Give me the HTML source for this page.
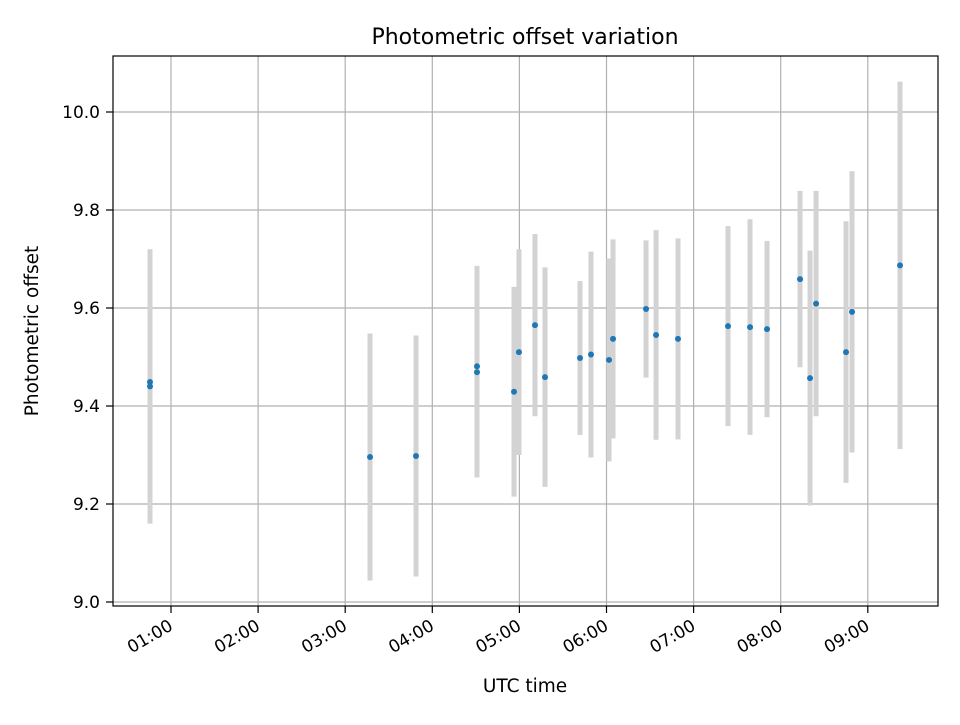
<!DOCTYPE html>
<html><head><meta charset="utf-8"><style>
body{margin:0;background:#fff;}
svg text{font-family:"DejaVu Sans","Liberation Sans",sans-serif;fill:#000;}
</style></head><body>
<svg id="chart" width="960" height="720" viewBox="0 0 960 720" xmlns="http://www.w3.org/2000/svg">
<rect width="960" height="720" fill="#fff"/>
<g id="grid"></g>
<g id="bars"></g>
<g id="pts"></g>
<rect x="113" y="56" width="825" height="550" fill="none" stroke="#000" stroke-width="1.2"/>
<g id="ticks"></g>
<text x="525" y="44" text-anchor="middle" font-size="22">Photometric offset variation</text>
<text x="525" y="692" text-anchor="middle" font-size="18.5">UTC time</text>
<text transform="translate(38,331) rotate(-90)" text-anchor="middle" font-size="18.5">Photometric offset</text>
</svg>
<script>
const times=[0.759,0.759,3.285,3.813,4.513,4.513,4.938,4.995,5.179,5.294,5.696,5.822,6.029,6.075,6.454,6.569,6.821,7.395,7.648,7.843,8.222,8.337,8.406,8.750,8.819,9.370];
const values=[9.449,9.440,9.296,9.298,9.481,9.469,9.429,9.510,9.565,9.459,9.498,9.505,9.494,9.537,9.598,9.545,9.537,9.563,9.561,9.557,9.659,9.457,9.609,9.510,9.592,9.687];
const errors=[0.27,0.28,0.252,0.246,0.205,0.215,0.214,0.21,0.186,0.224,0.157,0.21,0.207,0.203,0.14,0.214,0.205,0.204,0.22,0.18,0.18,0.26,0.23,0.267,0.287,0.375];
const xTicks=[1,2,3,4,5,6,7,8,9];
const xTickLabels=["01:00","02:00","03:00","04:00","05:00","06:00","07:00","08:00","09:00"];
const yTicks=[9.0,9.2,9.4,9.6,9.8,10.0];
const yTickLabels=["9.0","9.2","9.4","9.6","9.8","10.0"];
const NS="http://www.w3.org/2000/svg";
const X=h=>171+(h-1)*87.1;
const Y=v=>602-(v-9.0)*490;
function mk(tag,attrs,parent){const e=document.createElementNS(NS,tag);for(const k in attrs)e.setAttribute(k,attrs[k]);parent.appendChild(e);return e;}
const grid=document.getElementById('grid'),ticks=document.getElementById('ticks'),bars=document.getElementById('bars'),pts=document.getElementById('pts');
xTicks.forEach((t,i)=>{const x=X(t);
 const g=mk('line',{x1:x,x2:x,y1:56,y2:606,stroke:'#b0b0b0','stroke-width':1.2},grid);
 
 const tk=mk('line',{x1:x,x2:x,y1:606,y2:613,stroke:'#000','stroke-width':1.2},ticks);
 
 const tx=mk('text',{'text-anchor':'end','font-size':'17',transform:`translate(${x+3},${629}) rotate(-30)`},ticks);
 tx.textContent=xTickLabels[i];
 
});
yTicks.forEach((t,i)=>{const y=Y(t);
 const g=mk('line',{x1:113,x2:938,y1:y,y2:y,stroke:'#b0b0b0','stroke-width':1.2},grid);
 
 const tk=mk('line',{x1:106,x2:113,y1:y,y2:y,stroke:'#000','stroke-width':1.2},ticks);
 
 const tx=mk('text',{x:100,y:y+6,'text-anchor':'end','font-size':'17'},ticks);
 tx.textContent=yTickLabels[i];
 
});
times.forEach((t,i)=>{const x=X(t);
 const b=mk('line',{x1:x,x2:x,y1:Y(values[i]+errors[i]),y2:Y(values[i]-errors[i]),stroke:'#d3d3d3','stroke-width':5},bars);
 
 const c=mk('circle',{cx:x,cy:Y(values[i]),r:3,fill:'#1f77b4'},pts);
 
});
</script>
</body></html>
